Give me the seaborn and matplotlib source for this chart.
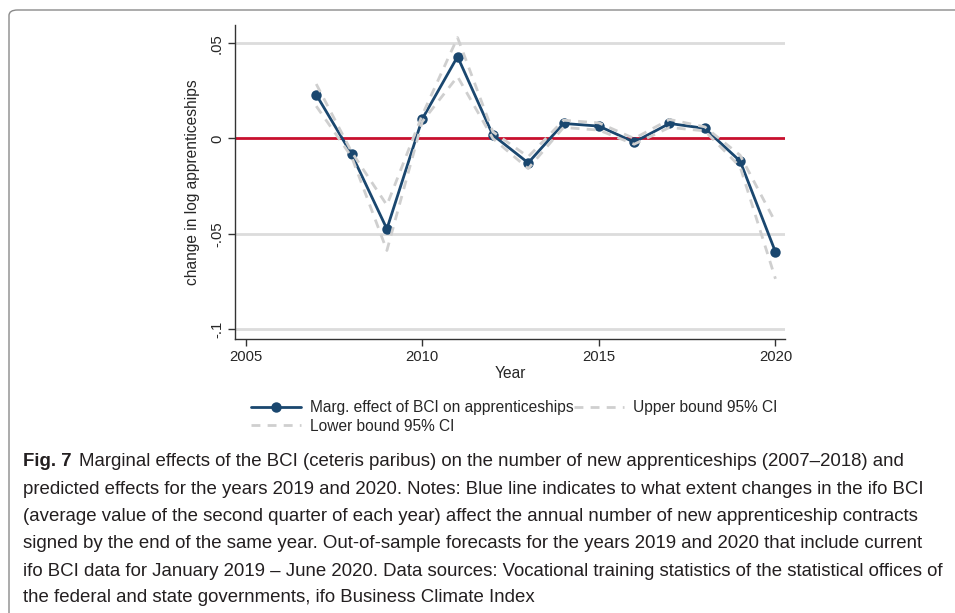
import numpy as np
import pandas as pd
import matplotlib
matplotlib.use("Agg")
import matplotlib.pyplot as plt
from matplotlib.patches import FancyBboxPatch
from matplotlib.lines import Line2D
import seaborn as sns

# Marginal effect of the BCI on log apprenticeships, with 95% CI bounds
years = [2007, 2008, 2009, 2010, 2011, 2012, 2013, 2014, 2015, 2016, 2017, 2018, 2019, 2020]
effect = [0.023, -0.0082, -0.0475, 0.0102, 0.043, 0.0018, -0.0128, 0.0079, 0.0065, -0.0019,
          0.0079, 0.0053, -0.0119, -0.0596]
upper = [0.0286, -0.0070, -0.0350, 0.0123, 0.0530, 0.0035, -0.0096, 0.0096, 0.0082, 0.0000,
         0.0100, 0.0061, -0.0088, -0.0440]
lower = [0.0170, -0.0096, -0.0588, 0.0088, 0.0325, 0.0000, -0.0158, 0.0058, 0.0044, -0.0030,
         0.0058, 0.0040, -0.0149, -0.0737]

xticks = [2005, 2010, 2015, 2020]
yticks = [0.05, 0.0, -0.05, -0.1]
ytick_labels = [".05", "0", "-.05", "-.1"]

legend_labels = ["Marg. effect of BCI on apprenticeships", "Upper bound 95% CI", "Lower bound 95% CI"]

caption_bold = "Fig. 7"
caption_lines = [
    "Marginal effects of the BCI (ceteris paribus) on the number of new apprenticeships (2007\u20132018) and",
    "predicted effects for the years 2019 and 2020. Notes: Blue line indicates to what extent changes in the ifo BCI",
    "(average value of the second quarter of each year) affect the annual number of new apprenticeship contracts",
    "signed by the end of the same year. Out-of-sample forecasts for the years 2019 and 2020 that include current",
    "ifo BCI data for January 2019 \u2013 June 2020. Data sources: Vocational training statistics of the statistical offices of",
    "the federal and state governments, ifo Business Climate Index",
]

df = pd.DataFrame({"year": years, "effect": effect, "upper": upper, "lower": lower})

sns.set_theme(style="white")
plt.rcParams["font.family"] = ["Liberation Sans", "DejaVu Sans"]

NAVY = "#1a476f"
RED = "#c8102e"
CI_GREY = "#cfcfcf"
GRID = "#dcdcdc"
DASH = (0, (3.2, 2.6))

fig = plt.figure(figsize=(9.55, 6.13), dpi=100)
W, H = 955, 613
ax = fig.add_axes([235 / W, 1 - 339 / H, (785 - 235) / W, (339 - 25) / H])

for yv in yticks:
    if yv != 0:
        ax.axhline(yv, color=GRID, lw=2.0, zorder=0)
ax.axhline(0, color=RED, lw=2.0, zorder=1)

sns.lineplot(data=df, x="year", y="effect", ax=ax, color=NAVY, lw=2.0,
             marker="o", markersize=7.5, markeredgewidth=0, zorder=3)
sns.lineplot(data=df, x="year", y="upper", ax=ax, color=CI_GREY, lw=2.0, zorder=4)
sns.lineplot(data=df, x="year", y="lower", ax=ax, color=CI_GREY, lw=2.0, zorder=4)
for ln in ax.lines[-2:]:
    ln.set_linestyle(DASH)

ax.set_xlim(2004.70, 2020.27)
ax.set_ylim(-0.1053, 0.0596)
ax.set_xticks(xticks)
ax.set_xticklabels([str(x) for x in xticks], fontsize=10.7)
ax.set_yticks(yticks)
ax.set_yticklabels(ytick_labels, fontsize=10.7, rotation=90, va="center")
ax.tick_params(axis="both", direction="out", length=5, width=1, color="#333333",
               left=True, bottom=True, pad=3)
ax.set_xlabel("Year", fontsize=11.2, labelpad=1.5)
ax.set_ylabel("change in log apprenticeships", fontsize=11.2, labelpad=7)
for s in ["top", "right"]:
    ax.spines[s].set_visible(False)
for s in ["left", "bottom"]:
    ax.spines[s].set_color("#333333")
    ax.spines[s].set_linewidth(1.0)

handles = [
    Line2D([], [], color=NAVY, lw=2.0, marker="o", markersize=7.5, markeredgewidth=0),
    Line2D([], [], color=CI_GREY, lw=2.0, linestyle=DASH),
    Line2D([], [], color=CI_GREY, lw=2.0, linestyle=DASH),
]
order = [0, 2, 1]
fig.legend([handles[i] for i in order], [legend_labels[i] for i in order],
           ncol=2, frameon=False, fontsize=11.2, loc="upper left",
           bbox_to_anchor=(239 / W, 1 - 388 / H), handlelength=3.2,
           handletextpad=0.55, columnspacing=0.05, labelspacing=0.22,
           borderpad=0.3)

# framing box around figure and caption
box = FancyBboxPatch((9 / W, -0.2), 1.2, 1 - 10 / H + 0.2,
                     boxstyle="round,pad=0,rounding_size=0.009",
                     transform=fig.transFigure, fill=False,
                     edgecolor="#8a8a8a", lw=1.0)
fig.patches.append(box)

# caption: size chosen so the longest line fits inside the box
renderer = fig.canvas.get_renderer()
cap_color = "#231f20"
probe = fig.text(0, 0, caption_lines[4], fontsize=12)
w_probe = probe.get_window_extent(renderer).width
probe.remove()
x0 = 23
cap_size = 12 * (949 - x0) / w_probe

line_y = [462, 489.5, 516.5, 543.5, 571, 598]
tb = fig.text(x0 / W, 1 - line_y[0] / H, caption_bold, fontsize=cap_size,
              fontweight="bold", va="center", color=cap_color)
bw = tb.get_window_extent(renderer).width
fig.text((x0 + bw + cap_size * 0.55) / W, 1 - line_y[0] / H, caption_lines[0],
         fontsize=cap_size, va="center", color=cap_color)
for yy, txt in zip(line_y[1:], caption_lines[1:]):
    fig.text(x0 / W, 1 - yy / H, txt, fontsize=cap_size, va="center", color=cap_color)

fig.savefig("out.png", dpi=100)
